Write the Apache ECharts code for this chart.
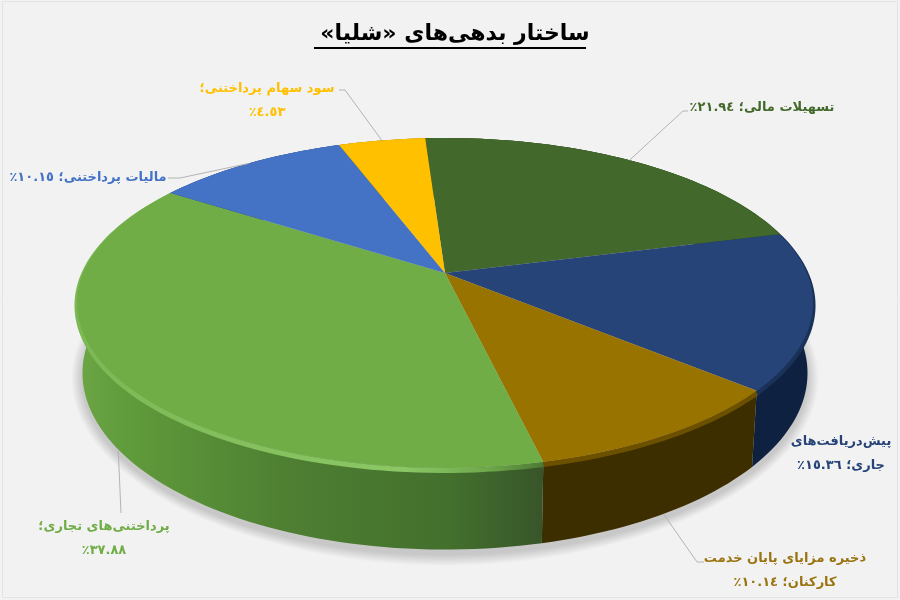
<!DOCTYPE html>
<html>
<head>
<meta charset="utf-8">
<title>ساختار بدهی‌های شلیا</title>
<script src="https://cdn.jsdelivr.net/npm/echarts@6/dist/echarts.min.js"></script>
<style>
  html, body { margin: 0; padding: 0; background: #f2f2f2; }
  #chart { width: 900px; height: 600px; }
</style>
</head>
<body>
<div id="chart"></div>
<script>
// data, clockwise from the top of the pie
var categories = ['تسهیلات مالی', 'پیش‌دریافت‌های جاری', 'ذخیره مزایای پایان خدمت کارکنان', 'پرداختنی‌های تجاری', 'مالیات پرداختنی', 'سود سهام پرداختنی'];
var shares = [21.94, 15.36, 10.14, 37.88, 10.15, 4.53];

var chartTitle = 'ساختار بدهی‌های «شلیا»';
var topColors = ['#43682b', '#264478', '#997300', '#70ad47', '#4472c4', '#ffc000'];
var rimColors = ['#38571f', '#1a3158', '#6b5000', '#70ad47', '#3a62a8', '#d9a300'];
var wallColors = ['#2a4119', '#0f2140', '#3d2e00', '#4f8033', '#2a4678', '#9c7600'];

// where each label goes: text centre, then the elbow of its leader line (null = no leader)
var labelCentres = [[762, 108], [841, 454], [785, 571], [104, 539], [88, 178], [267, 101]];
var labelElbows = [[[683, 111], [688, 111]], null, [[697, 562], [704, 562]], [[121, 513]], [[180, 178], [168, 178]], [[345, 90], [339, 90]]];
// first line of the labels that wrap
var labelBreaks = ['', 'پیش‌دریافت‌های', 'ذخیره مزایای پایان خدمت', 'پرداختنی‌های تجاری', '', 'سود سهام پرداختنی'];

// perspective of the pie: circle projected with the far side smaller
var cx = 445, cy = 273, radX = 361.9, radY = 159.5, persp = 0.1818;
var wallDrop = 68, baseScaleX = 0.985, baseScaleY = 1.07;
var startAngle = -3.7;
var RLM = '\u200F';

function project(deg, isBase) {
  var r = deg * Math.PI / 180;
  var X = Math.sin(r), Y = Math.cos(r);
  var s = 1 / (1 + persp * Y);
  if (isBase) {
    return [cx + radX * X * s * baseScaleX, cy - radY * Y * s * baseScaleY + wallDrop];
  }
  return [cx + radX * X * s, cy - radY * Y * s];
}

function arcPoints(from, to, isBase) {
  var pts = [];
  var n = Math.max(2, Math.ceil((to - from) / 1.5));
  for (var i = 0; i <= n; i++) {
    pts.push(project(from + (to - from) * i / n, isBase));
  }
  return pts;
}

function sliceRange(idx) {
  var before = 0;
  for (var i = 0; i < idx; i++) before += shares[i];
  return [startAngle + before * 3.6, startAngle + (before + shares[idx]) * 3.6];
}

function toArabicDigits(v) {
  return v.toFixed(2).replace(/\d/g, function (d) { return '٠١٢٣٤٥٦٧٨٩'.charAt(+d); });
}

function labelText(idx) {
  var name = categories[idx], brk = labelBreaks[idx];
  var percent = toArabicDigits(shares[idx]) + '٪' + RLM;
  if (!brk) return name + '؛ ' + percent;
  var rest = name.slice(brk.length).trim();
  if (!rest) return name + '؛\n' + percent;
  return brk + '\n' + rest + '؛ ' + percent;
}

function wallFill(idx) {
  if (idx !== 3) return wallColors[idx];
  return {
    type: 'linear', x: 76, y: 0, x2: 543, y2: 0, global: true,
    colorStops: [
      { offset: 0, color: '#6ca645' },
      { offset: 0.12, color: '#5f9a3b' },
      { offset: 0.45, color: '#4e7f32' },
      { offset: 0.8, color: '#43702d' },
      { offset: 1, color: '#38552a' }
    ]
  };
}

function rimStroke(idx) {
  if (idx !== 3) return rimColors[idx];
  return {
    type: 'linear', x: 76, y: 0, x2: 543, y2: 0, global: true,
    colorStops: [
      { offset: 0, color: '#7cb854' },
      { offset: 0.7, color: '#8cc766' },
      { offset: 0.88, color: '#6fa94c' },
      { offset: 1, color: '#4c7a35' }
    ]
  };
}

// soft shadow under the base: stacked faint rings growing outwards
function renderShadow(params) {
  if (params.dataIndex !== 0) return;
  var base = arcPoints(0, 360, true);
  var rings = [];
  var baseCy = cy + wallDrop + 30;
  for (var i = 14; i >= 1; i--) {
    rings.push({
      type: 'polygon',
      shape: {
        points: base.map(function (p) {
          var dx = p[0] - cx, dy = p[1] - baseCy;
          var len = Math.sqrt(dx * dx + dy * dy);
          return [p[0] + dx / len * i * 0.8, p[1] + dy / len * i * 0.8 + 5];
        })
      },
      style: { fill: 'rgba(0,0,0,0.012)' }
    });
  }
  return { type: 'group', children: rings };
}

function renderWall(params) {
  var idx = params.dataIndex, range = sliceRange(idx);
  var top = arcPoints(range[0], range[1], false);
  var base = arcPoints(range[0], range[1], true).reverse();
  return {
    type: 'polygon',
    shape: { points: top.concat(base) },
    style: { fill: wallFill(idx) }
  };
}

// bevel: a band sunk a little below the edge, only its front part shows past the top face
function renderBevel(params) {
  var idx = params.dataIndex, range = sliceRange(idx);
  var arc = arcPoints(range[0], range[1], false);
  return {
    type: 'polyline',
    shape: { points: arc.map(function (p) { return [p[0], p[1] + 2.5]; }) },
    style: { fill: null, stroke: rimStroke(idx), lineWidth: 5 }
  };
}

function renderTop(params) {
  var idx = params.dataIndex, range = sliceRange(idx);
  return {
    type: 'polygon',
    shape: { points: [[cx, cy]].concat(arcPoints(range[0], range[1], false)) },
    style: { fill: topColors[idx] }
  };
}

function renderLabel(params) {
  var idx = params.dataIndex, range = sliceRange(idx);
  var children = [];
  if (labelElbows[idx]) {
    var mid = (range[0] + range[1]) / 2;
    var onBase = idx === 2 || idx === 3;
    children.push({
      type: 'polyline',
      shape: { points: [project(mid, onBase)].concat(labelElbows[idx]) },
      style: { fill: null, stroke: '#b4b4b4', lineWidth: 1 }
    });
  }
  children.push({
    type: 'text',
    style: {
      text: labelText(idx),
      x: labelCentres[idx][0],
      y: labelCentres[idx][1],
      align: 'center',
      verticalAlign: 'middle',
      font: 'bold 13px "DejaVu Sans"',
      lineHeight: 24,
      fill: idx === 2 ? '#9a7410' : topColors[idx]
    }
  });
  return { type: 'group', children: children };
}

function layer(renderer, z) {
  return {
    type: 'custom',
    coordinateSystem: 'none',
    renderItem: renderer,
    data: shares,
    z: z,
    silent: true,
    animation: false
  };
}

var myChart = echarts.init(document.getElementById('chart'), null, { renderer: 'canvas' });
myChart.setOption({
  backgroundColor: '#f2f2f2',
  animation: false,
  title: {
    text: RLM + chartTitle + RLM,
    left: 450,
    top: 18,
    textAlign: 'center',
    textStyle: { fontFamily: 'DejaVu Sans', fontWeight: 'bold', fontSize: 22, color: '#000' }
  },
  graphic: [
    { type: 'line', shape: { x1: 314, y1: 48, x2: 586, y2: 48 }, style: { stroke: '#000', lineWidth: 2 }, silent: true },
    { type: 'rect', shape: { x: 2.5, y: 1.5, width: 895, height: 596 }, style: { fill: null, stroke: '#e4e4e4', lineWidth: 1 }, silent: true, z: 0 }
  ],
  series: [
    layer(renderShadow, 1),
    layer(renderWall, 2),
    layer(renderBevel, 3),
    layer(renderTop, 4),
    layer(renderLabel, 5)
  ]
});
</script>
</body>
</html>
